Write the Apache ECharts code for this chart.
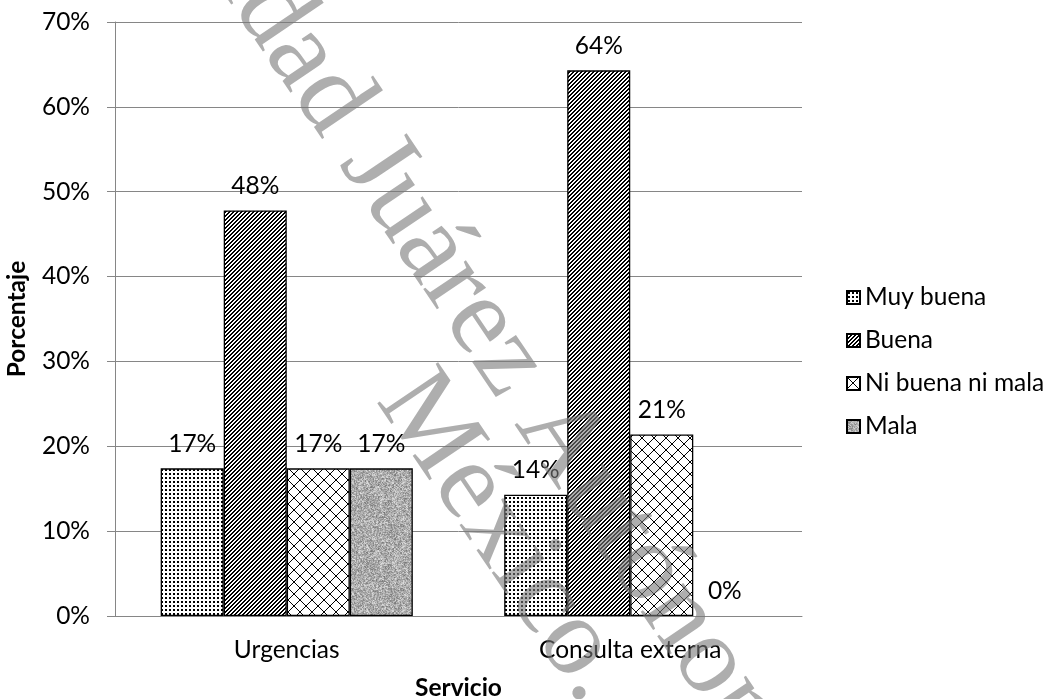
<!DOCTYPE html>
<html>
<head>
<meta charset="utf-8">
<script src="https://cdn.jsdelivr.net/npm/echarts@6/dist/echarts.min.js"></script>
<style>
  html, body { margin: 0; padding: 0; background: #fff; }
  #chart { width: 1050px; height: 699px; }
</style>
</head>
<body>
<div id="chart"></div>
<script>
// Satisfaction by service (share of responses)
const categories = ['Urgencias', 'Consulta externa'];
const seriesNames = ['Muy buena', 'Buena', 'Ni buena ni mala', 'Mala'];
const muyBuena = [0.174, 0.143];
const buena = [0.478, 0.643];
const niBuenaNiMala = [0.174, 0.214];
const mala = [0.174, 0];
const yAxisTitle = 'Porcentaje';
const xAxisTitle = 'Servicio';
const watermarkLines = ['Universidad Juárez Autónoma de Tabasco.', 'México.'];

const FONT = 'Lato, "Open Sans", sans-serif';
const TEXT_SIZE = 24.5;

// ---- fill patterns -------------------------------------------------------
function tile(w, h, draw) {
  const c = document.createElement('canvas');
  c.width = w; c.height = h;
  const ctx = c.getContext('2d');
  draw(ctx, w, h);
  return { image: c, repeat: 'repeat' };
}

// small dots
const dotFill = tile(4, 4, (ctx, w, h) => {
  ctx.fillStyle = '#fff'; ctx.fillRect(0, 0, w, h);
  ctx.fillStyle = '#000'; ctx.fillRect(1, 1, 2, 2);
});

// wide upward diagonal stripes
const stripeFill = tile(4, 4, (ctx, w, h) => {
  const img = ctx.createImageData(w, h);
  for (let y = 0; y < h; y++) {
    for (let x = 0; x < w; x++) {
      const on = ((x + y) % 4) < 2;
      const v = on ? 0 : 255;
      const i = (y * w + x) * 4;
      img.data[i] = img.data[i + 1] = img.data[i + 2] = v;
      img.data[i + 3] = 255;
    }
  }
  ctx.putImageData(img, 0, 0);
});

// diagonal cross-hatch (diamonds)
const crossFill = tile(12, 12, (ctx, w, h) => {
  ctx.fillStyle = '#fff'; ctx.fillRect(0, 0, w, h);
  ctx.fillStyle = '#000';
  for (let i = 0; i < w; i++) {
    ctx.fillRect(i, i, 1, 1);
    ctx.fillRect(w - 1 - i, i, 1, 1);
  }
});

// grey granite texture
const graniteFill = tile(64, 64, (ctx, w, h) => {
  const img = ctx.createImageData(w, h);
  for (let y = 0; y < h; y++) {
    for (let x = 0; x < w; x++) {
      const s = Math.sin(x * 12.9898 + y * 78.233) * 43758.5453;
      const n = s - Math.floor(s);
      const s2 = Math.sin((x >> 1) * 39.346 + (y >> 1) * 11.135) * 24634.6345;
      const n2 = s2 - Math.floor(s2);
      const v = Math.round(172 + (n - 0.5) * 70 + (n2 - 0.5) * 40);
      const i = (y * w + x) * 4;
      img.data[i] = img.data[i + 1] = img.data[i + 2] = Math.max(0, Math.min(255, v));
      img.data[i + 3] = 255;
    }
  }
  ctx.putImageData(img, 0, 0);
});

const fills = [dotFill, stripeFill, crossFill, graniteFill];
const values = [muyBuena, buena, niBuenaNiMala, mala];

const pct = v => Math.round(v * 100) + '%';

const series = seriesNames.map((name, k) => ({
  name,
  type: 'bar',
  // a zero-height bar shows only its label, no outline
  data: values[k].map(v => (v === 0 ? { value: v, itemStyle: { borderWidth: 0 } } : v)),
  barGap: 0,
  barCategoryGap: '26.6%',
  itemStyle: { color: fills[k], borderColor: '#000', borderWidth: 1.3 },
  label: {
    show: true,
    position: 'top',
    distance: 12,
    formatter: p => pct(p.value),
    color: '#000',
    fontFamily: FONT,
    fontSize: TEXT_SIZE
  },
  emphasis: { disabled: true }
}));

// watermark text laid diagonally over the plot
const angle = 56 * Math.PI / 180;
const wmStyle = {
  fontFamily: '"Liberation Serif", serif', fontSize: 112,
  fill: 'rgba(120,120,120,0.6)', textVerticalAlign: 'middle', textAlign: 'left'
};
const graphic = [
  { type: 'text', x: 41, y: -330, rotation: -angle, z: 100, silent: true,
    style: Object.assign({ text: watermarkLines[0] }, wmStyle) },
  { type: 'text', x: 400, y: 384, rotation: -angle, z: 100, silent: true,
    style: Object.assign({ text: watermarkLines[1] }, wmStyle) }
];

const chart = echarts.init(document.getElementById('chart'), null, { renderer: 'canvas' });
chart.setOption({
  animation: false,
  backgroundColor: '#fff',
  grid: { left: 115, right: 248, top: 22, bottom: 83, containLabel: false, outerBoundsMode: 'none' },
  legend: {
    orient: 'vertical',
    left: 846,
    top: 285,
    padding: 0,
    itemWidth: 13,
    itemHeight: 13,
    itemGap: 18,
    icon: 'rect',
    textStyle: { fontFamily: FONT, fontSize: TEXT_SIZE, color: '#000', lineHeight: 25 },
    data: seriesNames
  },
  xAxis: {
    type: 'category',
    data: categories,
    axisLine: { lineStyle: { color: '#868686', width: 1 } },
    axisTick: { show: false },
    axisLabel: { margin: 22, color: '#000', fontFamily: FONT, fontSize: TEXT_SIZE, lineHeight: 25 },
    name: xAxisTitle,
    nameLocation: 'middle',
    nameGap: 60,
    nameTextStyle: { fontFamily: FONT, fontSize: TEXT_SIZE, fontWeight: 'bold', color: '#000' }
  },
  yAxis: {
    type: 'value',
    min: 0,
    max: 0.7,
    interval: 0.1,
    axisLine: { show: true, lineStyle: { color: '#868686', width: 1 } },
    axisTick: { show: true, length: 8, lineStyle: { color: '#868686' } },
    splitLine: { lineStyle: { color: '#868686', width: 1 } },
    axisLabel: { margin: 25, color: '#000', fontFamily: FONT, fontSize: TEXT_SIZE, formatter: v => pct(v) },
    name: yAxisTitle,
    nameLocation: 'middle',
    nameGap: 85,
    nameRotate: 90,
    nameTextStyle: { fontFamily: FONT, fontSize: TEXT_SIZE, fontWeight: 'bold', color: '#000' }
  },
  series,
  graphic
});
</script>
</body>
</html>
